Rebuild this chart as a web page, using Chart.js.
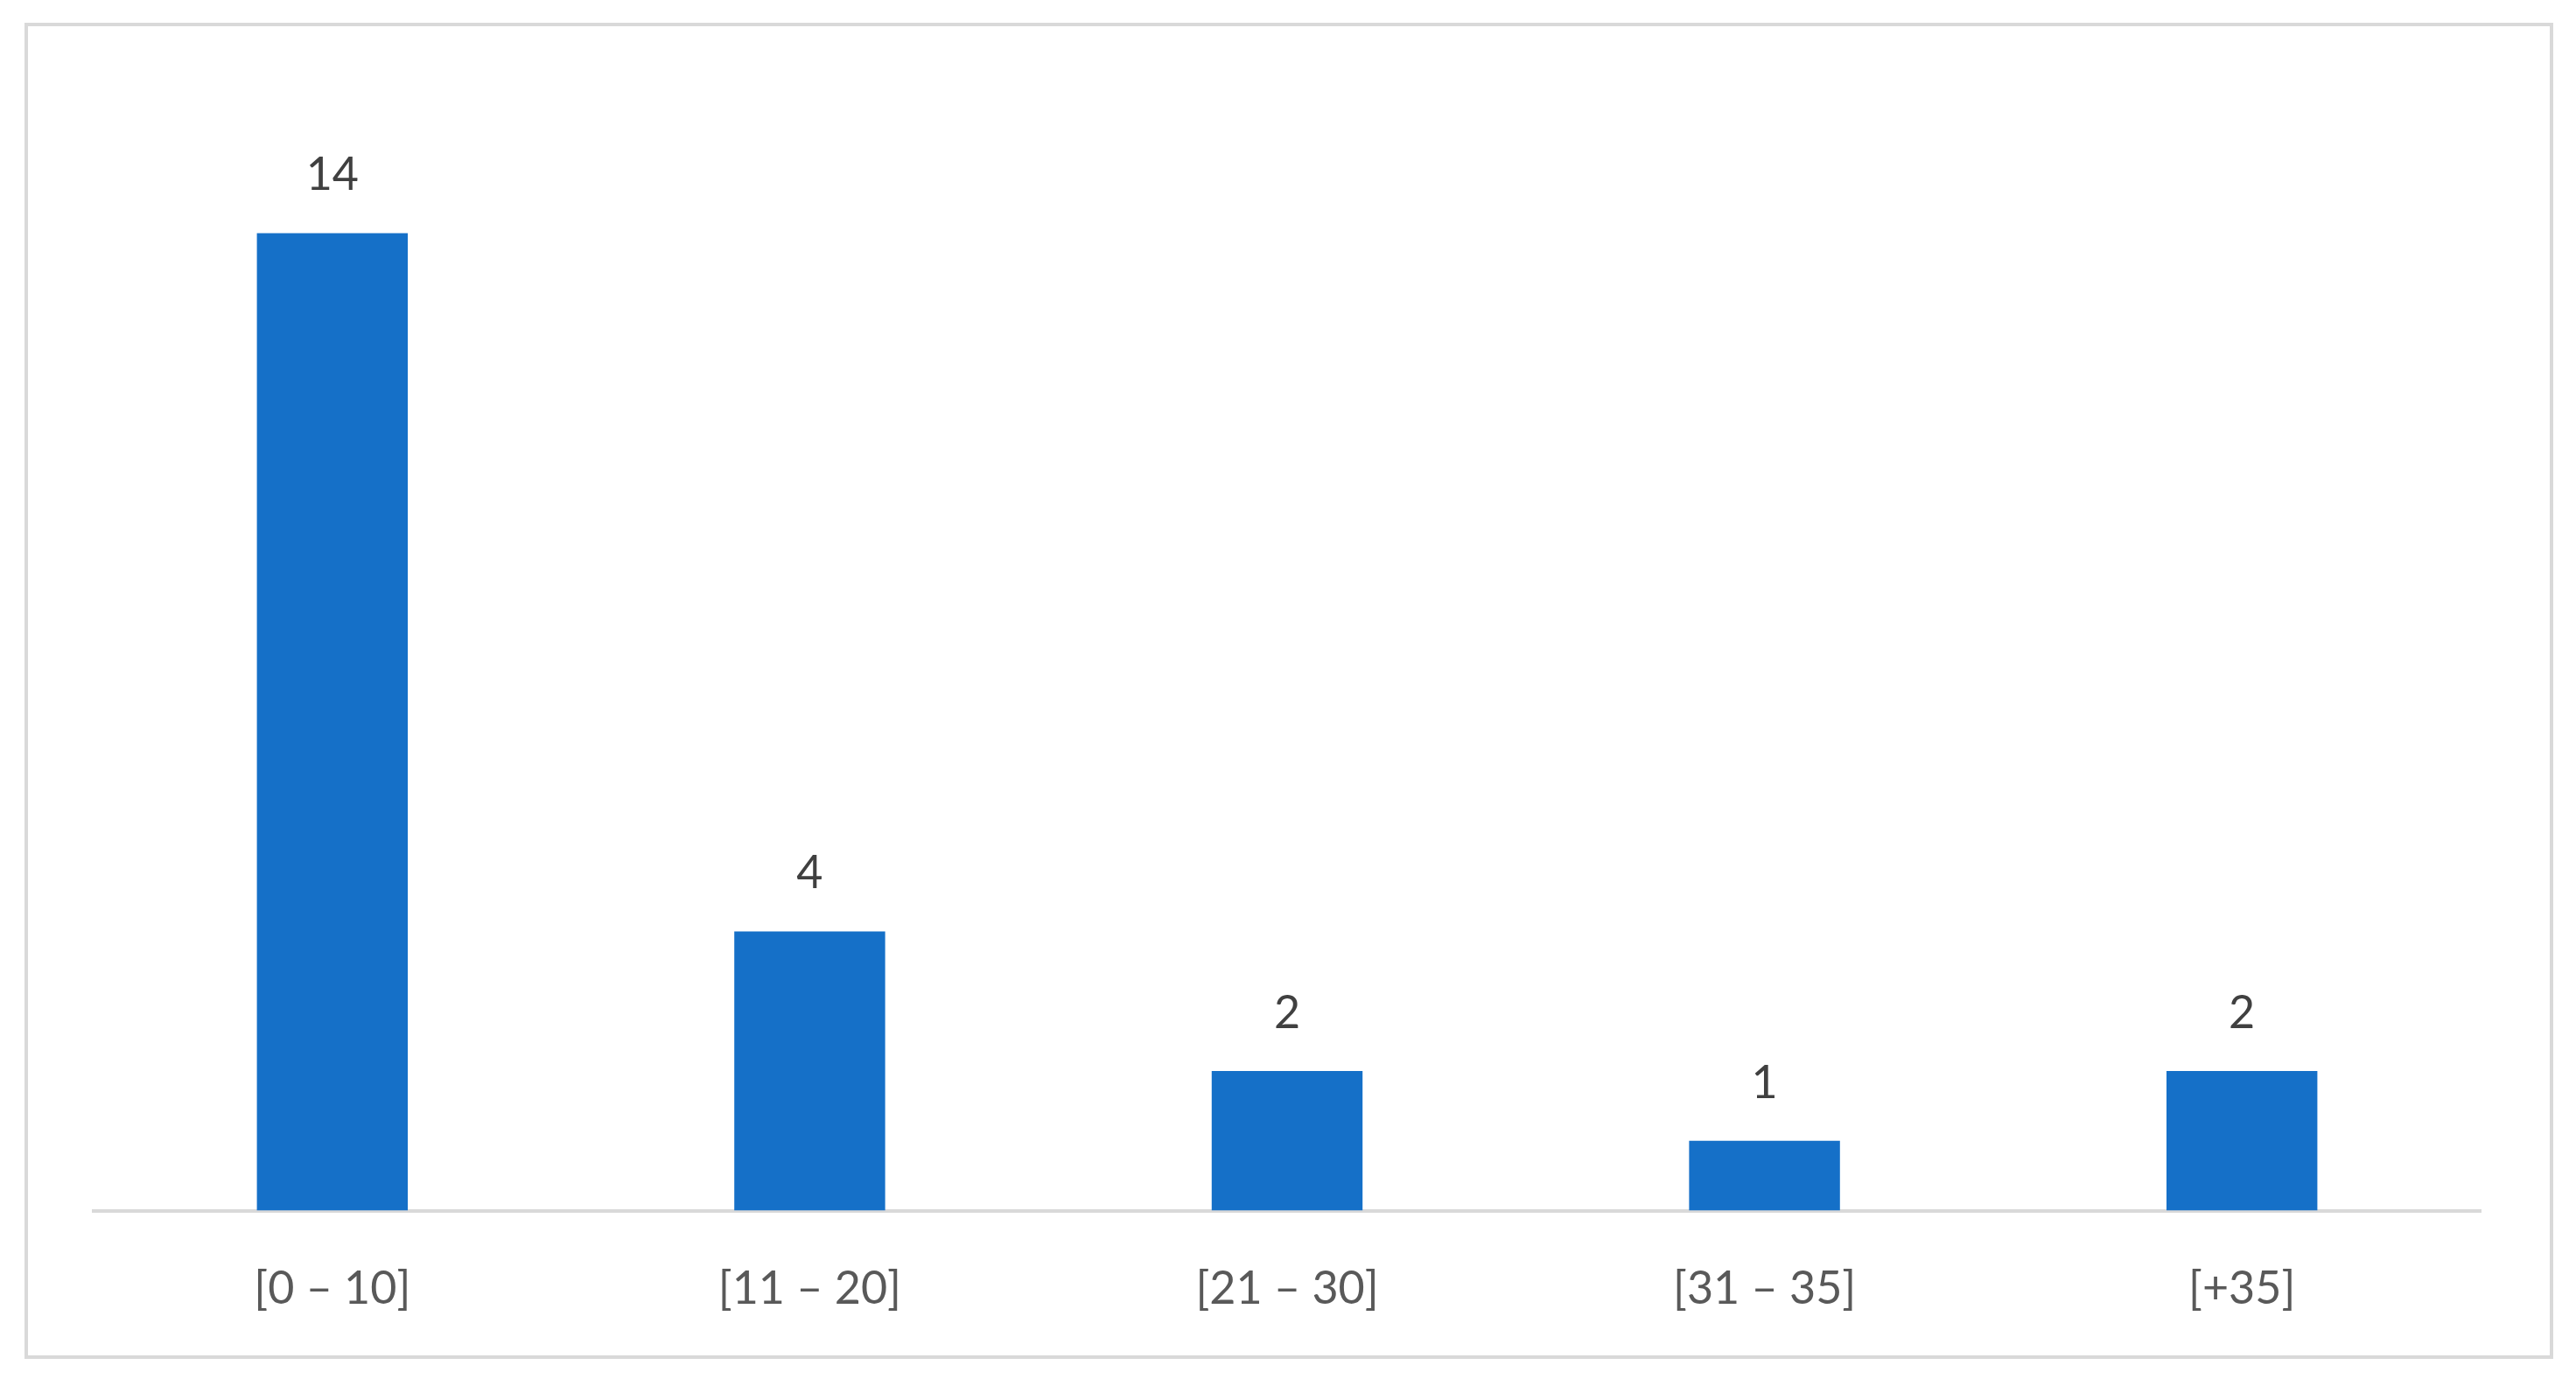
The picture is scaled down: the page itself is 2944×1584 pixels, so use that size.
<!DOCTYPE html>
<html>
<head>
<meta charset="utf-8">
<script src="https://cdn.jsdelivr.net/npm/chart.js@4"></script>
<style>
  html, body { margin: 0; padding: 0; background: #fff; }
  #wrap { width: 2944px; height: 1584px; position: relative; }
</style>
</head>
<body>
<div id="wrap"><canvas id="chart" width="2944" height="1584"></canvas></div>
<script>
const categories = ['[0 – 10]', '[11 – 20]', '[21 – 30]', '[31 – 35]', '[+35]'];
const counts = [14, 4, 2, 1, 2];

// outer frame + value labels above bars
const framePlugin = {
  id: 'frame',
  beforeDraw(chart) {
    const c = chart.ctx;
    c.save();
    c.fillStyle = '#fff';
    c.fillRect(0, 0, chart.width, chart.height);
    c.strokeStyle = '#d9d9d9';
    c.lineWidth = 4;
    c.strokeRect(30, 28, 2886, 1523);
    c.restore();
  },
  afterDatasetsDraw(chart) {
    const c = chart.ctx;
    const meta = chart.getDatasetMeta(0);
    c.save();
    c.fillStyle = '#404040';
    c.font = '52px Lato, "Open Sans", sans-serif';
    c.textAlign = 'center';
    c.textBaseline = 'bottom';
    meta.data.forEach((bar, i) => {
      c.fillText(counts[i], bar.x, bar.y - 40);
    });
    c.restore();
  }
};

new Chart(document.getElementById('chart'), {
  type: 'bar',
  data: {
    labels: categories,
    datasets: [{
      data: counts,
      backgroundColor: '#1570c8',
      categoryPercentage: 1,
      barPercentage: 0.316
    }]
  },
  options: {
    responsive: false,
    animation: false,
    layout: { padding: { top: 107, left: 107, right: 109, bottom: 22 } },
    plugins: { legend: { display: false }, tooltip: { enabled: false } },
    scales: {
      x: {
        grid: { display: false, drawTicks: false },
        border: { color: '#d9d9d9', width: 4 },
        ticks: { color: '#595959', padding: 58, font: { size: 52, family: 'Lato, "Open Sans", sans-serif' } }
      },
      y: {
        display: false,
        min: 0,
        max: 16
      }
    }
  },
  plugins: [framePlugin]
});
</script>
</body>
</html>
